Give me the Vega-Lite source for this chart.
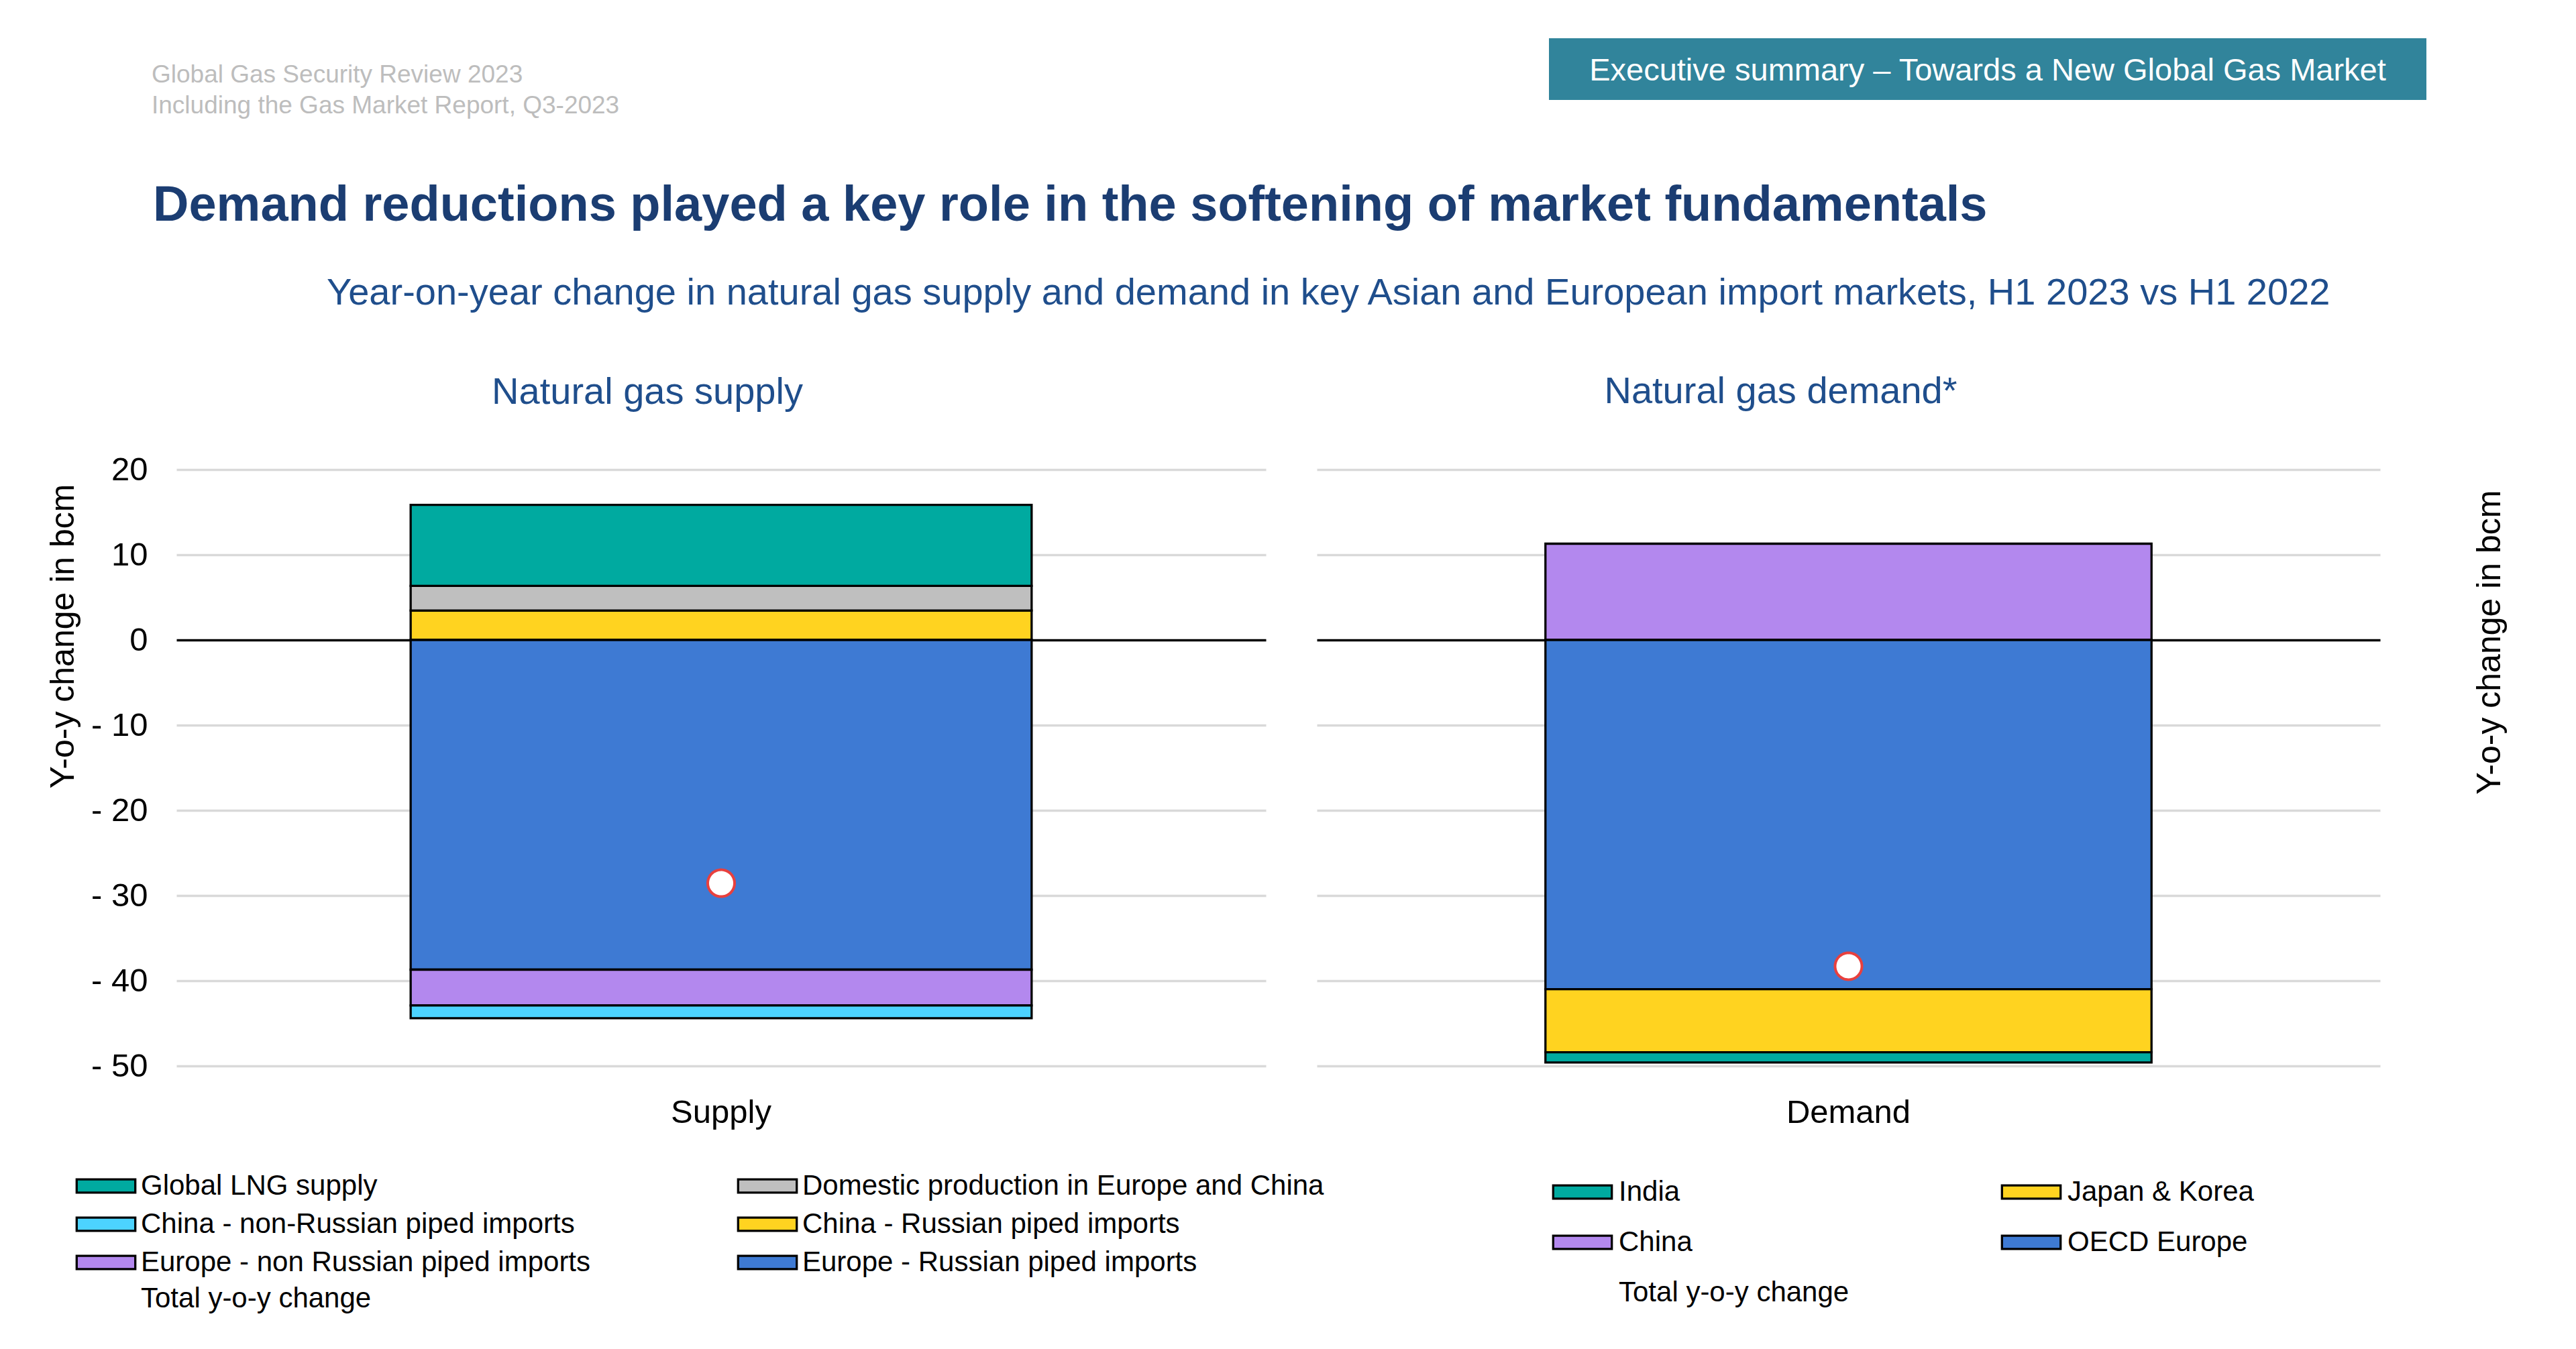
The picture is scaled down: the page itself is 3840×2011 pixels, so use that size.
{
  "$schema": "https://vega.github.io/schema/vega-lite/v6.json",
  "background": "white",
  "padding": {"left": 69, "top": 57, "right": 10, "bottom": 10},
  "autosize": {"type": "pad"},
  "config": {
    "font": "Liberation Sans",
    "view": {"stroke": null},
    "axisX": {"grid": false}
  },
  "datasets": {
    "header": [
      {"i": 1, "line": "Global Gas Security Review 2023"},
      {"i": 2, "line": "Including the Gas Market Report, Q3-2023"}
    ],
    "tag": [{"label": "Executive summary – Towards a New Global Gas Market"}],
    "supply": [
      {"cat": "Supply", "series": "China - Russian piped imports", "value": 3.45, "ord": 1},
      {"cat": "Supply", "series": "Domestic production in Europe and China", "value": 2.9, "ord": 2},
      {"cat": "Supply", "series": "Global LNG supply", "value": 9.5, "ord": 3},
      {"cat": "Supply", "series": "Europe - Russian piped imports", "value": -38.7, "ord": 1},
      {"cat": "Supply", "series": "Europe - non Russian piped imports", "value": -4.2, "ord": 2},
      {"cat": "Supply", "series": "China - non-Russian piped imports", "value": -1.5, "ord": 3}
    ],
    "supplyTotal": [{"cat": "Supply", "value": -28.55, "series": "Total y-o-y change", "marker": "Total marker"}],
    "demand": [
      {"cat": "Demand", "series": "China", "value": 11.3, "ord": 1},
      {"cat": "Demand", "series": "OECD Europe", "value": -41.0, "ord": 1},
      {"cat": "Demand", "series": "Japan & Korea", "value": -7.4, "ord": 2},
      {"cat": "Demand", "series": "India", "value": -1.2, "ord": 3}
    ],
    "demandTotal": [{"cat": "Demand", "value": -38.3, "series": "Total y-o-y change", "marker": "Total marker"}]
  },
  "bounds": "flush",
  "spacing": 643,
  "vconcat": [
    {
      "bounds": "flush",
      "spacing": 0,
      "title": {
        "text": "Demand reductions played a key role in the softening of market fundamentals",
        "orient": "bottom", "anchor": "start", "frame": "bounds", "baseline": "top",
        "fontSize": 74, "fontWeight": "bold", "color": "#1B3D72", "offset": 76, "dx": 2
      },
      "hconcat": [
        {
          "width": 2046, "height": 138,
          "data": {"name": "header"},
          "mark": {"type": "text", "align": "left", "baseline": "middle", "fontSize": 37, "color": "#BDBDBD", "dx": -37},
          "encoding": {
            "x": {"datum": 0, "type": "quantitative", "scale": {"domain": [0, 1]}, "axis": null},
            "y": {"field": "i", "type": "quantitative", "scale": {"domain": [-0.2, 2.8], "reverse": true}, "axis": null},
            "text": {"field": "line"}
          }
        },
        {
          "width": 1308, "height": 92,
          "view": {"fill": "#31849B", "stroke": null},
          "data": {"name": "tag"},
          "mark": {"type": "text", "align": "center", "baseline": "middle", "fontSize": 47, "color": "white", "dy": 3},
          "encoding": {"text": {"field": "label"}}
        }
      ]
    },
    {
      "bounds": "flush",
      "spacing": 76,
      "title": {
        "text": "Year-on-year change in natural gas supply and demand in key Asian and European import markets, H1 2023 vs H1 2022",
        "anchor": "start", "frame": "bounds", "dx": 418, "offset": 90,
        "fontSize": 56, "fontWeight": "normal", "color": "#1F4E8C"
      },
      "resolve": {
        "scale": {"color": "independent", "shape": "independent", "strokeDash": "independent", "x": "independent", "y": "independent"},
        "legend": {"color": "independent", "shape": "independent", "strokeDash": "independent"}
      },
      "hconcat": [
        {
          "width": 1624, "height": 889,
          "title": {"text": "Natural gas supply", "fontSize": 56, "fontWeight": "normal", "color": "#1F4E8C", "dx": -110, "offset": 62},
          "layer": [
            {
              "data": {"name": "supply"},
              "mark": {"type": "bar", "stroke": "black", "strokeWidth": 3.3, "width": {"band": 0.57}},
              "encoding": {
                "x": {
                  "field": "cat", "type": "nominal",
                  "scale": {"paddingInner": 0, "paddingOuter": 0},
                  "axis": {"title": null, "domain": false, "ticks": false, "labelAngle": 0, "labelFontSize": 49, "labelColor": "black", "labelPadding": 45, "labelLimit": 1000}
                },
                "y": {
                  "field": "value", "type": "quantitative", "stack": "zero",
                  "scale": {"domain": [-50, 20], "nice": false, "zero": false},
                  "axis": {
                    "values": [-50, -40, -30, -20, -10, 0, 10, 20],
                    "labelExpr": "datum.value < 0 ? '- ' + (-datum.value) : '' + datum.value",
                    "labelFontSize": 49, "labelColor": "black", "labelPadding": 43,
                    "domain": false, "ticks": false, "grid": true,
                    "gridColor": {"condition": {"test": "datum.value === 0", "value": "black"}, "value": "#D9D9D9"},
                    "gridWidth": 3.3,
                    "title": "Y-o-y change in bcm", "titleFontSize": 50, "titleFontWeight": "normal", "titleColor": "black",
                    "titleAngle": 270, "titleX": -169, "titleY": 248, "titleAlign": "center", "titleBaseline": "middle"
                  }
                },
                "color": {
                  "field": "series", "type": "nominal",
                  "scale": {
                    "domain": ["Global LNG supply", "China - non-Russian piped imports", "Europe - non Russian piped imports", "Domestic production in Europe and China", "China - Russian piped imports", "Europe - Russian piped imports"],
                    "range": ["#00AAA0", "#4CD3FF", "#B388EE", "#BFBFBF", "#FFD320", "#3E7AD3"]
                  },
                  "legend": {
                    "orient": "none", "legendX": -160, "legendY": 1047, "title": null,
                    "columns": 2, "columnPadding": 208, "rowPadding": 15, "gridAlign": "each", "padding": 0,
                    "symbolType": "M-4.37,-0.99H4.37V0.99H-4.37Z", "symbolSize": 400, "symbolOffset": 34,
                    "symbolStrokeColor": "black", "symbolStrokeWidth": 3.3, "symbolOpacity": 1,
                    "labelFontSize": 42, "labelColor": "black", "labelOffset": 31, "labelLimit": 3000
                  }
                },
                "order": {"field": "ord", "type": "quantitative"}
              }
            },
            {
              "data": {"name": "supplyTotal"},
              "mark": {"type": "point", "filled": true, "fill": "white", "stroke": "#E8403E", "strokeWidth": 4, "size": 1600, "opacity": 1},
              "encoding": {
                "x": {"field": "cat", "type": "nominal"},
                "y": {"field": "value", "type": "quantitative"},
                "shape": {
                  "field": "series", "type": "nominal",
                  "scale": {"domain": ["Total y-o-y change"], "range": ["circle"]},
                  "legend": {
                    "orient": "none", "legendX": -160, "legendY": 1215, "title": null, "padding": 0, "zindex": 1,
                    "symbolType": "M-4.8,-0.5H4.8V0.5H-4.8Z", "symbolSize": 400, "symbolOffset": 34, "symbolOpacity": 1,
                    "symbolFillColor": "#8EA6CF", "symbolStrokeColor": "transparent", "symbolStrokeWidth": 3.3,
                    "labelFontSize": 42, "labelColor": "black", "labelOffset": 31, "labelLimit": 3000,
                    "encode": {"symbols": {
                      "shape": {"value": "M-4.8,-0.5H4.8V0.5H-4.8Z"},
                      "fill": {"value": "#8EA6CF"},
                      "stroke": {"value": "transparent"},
                      "opacity": {"value": 1},
                      "fillOpacity": {"value": 1}
                    }}
                  }
                },
                "strokeDash": {
                  "field": "marker", "type": "nominal",
                  "scale": {"domain": ["Total marker"], "range": [[1, 0]]},
                  "legend": {
                    "orient": "none", "legendX": -160, "legendY": 1215, "title": null, "padding": 0, "zindex": 2,
                    "symbolType": "M1.25,0A1.25,1.25 0 1,1 -1.25,0A1.25,1.25 0 1,1 1.25,0Z", "symbolSize": 400, "symbolOffset": 33.4, "symbolOpacity": 1,
                    "symbolFillColor": "white", "symbolStrokeColor": "#E8403E", "symbolStrokeWidth": 4.5,
                    "labelFontSize": 42, "labelExpr": "' '", "labelOffset": 31,
                    "encode": {"symbols": {
                      "shape": {"value": "M1.25,0A1.25,1.25 0 1,1 -1.25,0A1.25,1.25 0 1,1 1.25,0Z"},
                      "fill": {"value": "white"},
                      "stroke": {"value": "#E8403E"},
                      "strokeWidth": {"value": 4.5},
                      "opacity": {"value": 1},
                      "fillOpacity": {"value": 1},
                      "strokeOpacity": {"value": 1}
                    }}
                  }
                }
              }
            }
          ]
        },
        {
          "width": 1585, "height": 889,
          "title": {"text": "Natural gas demand*", "fontSize": 56, "fontWeight": "normal", "color": "#1F4E8C", "dx": -101, "offset": 87},
          "layer": [
            {
              "data": {"name": "demand"},
              "mark": {"type": "bar", "stroke": "black", "strokeWidth": 3.3, "width": {"band": 0.57}},
              "encoding": {
                "x": {
                  "field": "cat", "type": "nominal",
                  "scale": {"paddingInner": 0, "paddingOuter": 0},
                  "axis": {"title": null, "domain": false, "ticks": false, "labelAngle": 0, "labelFontSize": 49, "labelColor": "black", "labelPadding": 45, "labelLimit": 1000}
                },
                "y": {
                  "field": "value", "type": "quantitative", "stack": "zero",
                  "scale": {"domain": [-50, 20], "nice": false, "zero": false},
                  "axis": {
                    "orient": "right",
                    "values": [-50, -40, -30, -20, -10, 0, 10, 20],
                    "labels": false, "domain": false, "ticks": false, "grid": true,
                    "gridColor": {"condition": {"test": "datum.value === 0", "value": "black"}, "value": "#D9D9D9"},
                    "gridWidth": 3.3,
                    "title": "Y-o-y change in bcm", "titleFontSize": 50, "titleFontWeight": "normal", "titleColor": "black",
                    "titleAngle": 270, "titleX": 163, "titleY": 257, "titleAlign": "center", "titleBaseline": "middle"
                  }
                },
                "color": {
                  "field": "series", "type": "nominal",
                  "scale": {
                    "domain": ["India", "China", "Japan & Korea", "OECD Europe"],
                    "range": ["#00AAA0", "#B388EE", "#FFD320", "#3E7AD3"]
                  },
                  "legend": {
                    "orient": "none", "legendX": 341, "legendY": 1056, "title": null,
                    "columns": 2, "columnPadding": 450, "rowPadding": 33, "gridAlign": "each", "padding": 0,
                    "symbolType": "M-4.37,-0.99H4.37V0.99H-4.37Z", "symbolSize": 400, "symbolOffset": 34,
                    "symbolStrokeColor": "black", "symbolStrokeWidth": 3.3, "symbolOpacity": 1,
                    "labelFontSize": 42, "labelColor": "black", "labelOffset": 33, "labelLimit": 3000
                  }
                },
                "order": {"field": "ord", "type": "quantitative"}
              }
            },
            {
              "data": {"name": "demandTotal"},
              "mark": {"type": "point", "filled": true, "fill": "white", "stroke": "#E8403E", "strokeWidth": 4, "size": 1600, "opacity": 1},
              "encoding": {
                "x": {"field": "cat", "type": "nominal"},
                "y": {"field": "value", "type": "quantitative"},
                "shape": {
                  "field": "series", "type": "nominal",
                  "scale": {"domain": ["Total y-o-y change"], "range": ["circle"]},
                  "legend": {
                    "orient": "none", "legendX": 341, "legendY": 1206, "title": null, "padding": 0, "zindex": 1,
                    "symbolType": "M-4.8,-0.5H4.8V0.5H-4.8Z", "symbolSize": 400, "symbolOffset": 34, "symbolOpacity": 1,
                    "symbolFillColor": "#8EA6CF", "symbolStrokeColor": "transparent", "symbolStrokeWidth": 3.3,
                    "labelFontSize": 42, "labelColor": "black", "labelOffset": 33, "labelLimit": 3000,
                    "encode": {"symbols": {
                      "shape": {"value": "M-4.8,-0.5H4.8V0.5H-4.8Z"},
                      "fill": {"value": "#8EA6CF"},
                      "stroke": {"value": "transparent"},
                      "opacity": {"value": 1},
                      "fillOpacity": {"value": 1}
                    }}
                  }
                },
                "strokeDash": {
                  "field": "marker", "type": "nominal",
                  "scale": {"domain": ["Total marker"], "range": [[1, 0]]},
                  "legend": {
                    "orient": "none", "legendX": 341, "legendY": 1206, "title": null, "padding": 0, "zindex": 2,
                    "symbolType": "M1.25,0A1.25,1.25 0 1,1 -1.25,0A1.25,1.25 0 1,1 1.25,0Z", "symbolSize": 400, "symbolOffset": 33.4, "symbolOpacity": 1,
                    "symbolFillColor": "white", "symbolStrokeColor": "#E8403E", "symbolStrokeWidth": 4.5,
                    "labelFontSize": 42, "labelExpr": "' '", "labelOffset": 33,
                    "encode": {"symbols": {
                      "shape": {"value": "M1.25,0A1.25,1.25 0 1,1 -1.25,0A1.25,1.25 0 1,1 1.25,0Z"},
                      "fill": {"value": "white"},
                      "stroke": {"value": "#E8403E"},
                      "strokeWidth": {"value": 4.5},
                      "opacity": {"value": 1},
                      "fillOpacity": {"value": 1},
                      "strokeOpacity": {"value": 1}
                    }}
                  }
                }
              }
            }
          ]
        }
      ]
    }
  ]
}
